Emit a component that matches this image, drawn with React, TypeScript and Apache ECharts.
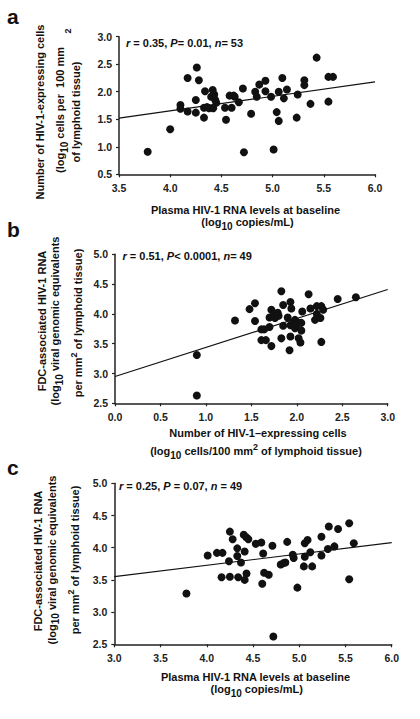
import React, { useEffect, useRef } from "react";
import * as echarts from "echarts";

const FONT = "'Liberation Sans', Arial, Helvetica, sans-serif";

// ---------- Panel a: plasma RNA vs HIV-1-expressing cells ----------
const aPlasma = [3.78, 4.0, 4.1, 4.1, 4.17, 4.17, 4.26, 4.28, 4.25, 4.25, 4.34, 4.33, 4.33, 4.415, 4.4, 4.44, 4.38, 4.42, 4.535, 4.545, 4.58, 4.63, 4.6, 4.67, 4.71, 4.72, 4.79, 4.83, 4.845, 4.87, 4.93, 4.93, 4.985, 5.01, 5.04, 5.06, 5.06, 5.095, 5.11, 5.14, 5.235, 5.245, 5.31, 5.31, 5.37, 5.43, 5.545, 5.59, 5.545, 4.43, 4.36, 4.45, 4.62];
const aCells = [0.91, 1.32, 1.76, 1.69, 2.25, 1.64, 2.44, 2.21, 1.85, 1.62, 2.01, 1.71, 1.53, 2.03, 1.91, 1.85, 1.7, 1.7, 1.71, 1.49, 1.93, 1.91, 1.71, 1.81, 2.06, 0.9, 1.6, 2.0, 1.91, 2.13, 2.2, 2.01, 1.91, 0.95, 1.63, 1.47, 2.0, 2.25, 1.88, 2.04, 1.53, 1.95, 2.21, 2.12, 1.78, 2.62, 2.27, 2.27, 1.82, 1.95, 1.72, 1.8, 1.93];
const aFitX = [3.5, 6.0];
const aFitY = [1.52, 2.18];

// ---------- Panel b: cells vs FDC-associated RNA ----------
const bCells = [0.9, 0.9, 1.32, 1.48, 1.54, 1.54, 1.61, 1.61, 1.66, 1.64, 1.7, 1.72, 1.72, 1.7, 1.76, 1.79, 1.83, 1.83, 1.85, 1.85, 1.9, 1.92, 1.93, 1.94, 1.93, 1.93, 1.98, 1.99, 2.02, 2.02, 2.04, 2.05, 2.05, 2.06, 2.13, 2.15, 2.2, 2.22, 2.26, 2.27, 2.27, 2.29, 2.45, 2.65, 1.8, 1.75, 1.95, 2.22, 1.98];
const bFdc = [3.31, 2.63, 3.89, 4.08, 4.18, 3.88, 3.74, 3.56, 3.56, 3.74, 3.78, 3.46, 4.07, 3.94, 3.93, 4.02, 3.59, 4.38, 4.15, 3.8, 3.94, 3.39, 4.2, 4.09, 3.81, 3.62, 3.9, 3.8, 3.85, 3.59, 3.52, 3.72, 3.85, 4.04, 4.33, 4.09, 3.9, 4.13, 3.93, 3.53, 4.13, 4.07, 4.25, 4.28, 3.97, 4.0, 3.83, 4.0, 3.76];
const bFitX = [0, 3.0];
const bFitY = [2.95, 4.41];

// ---------- Panel c: plasma RNA vs FDC-associated RNA ----------
const cPlasma = [3.78, 4.01, 4.11, 4.17, 4.16, 4.25, 4.28, 4.24, 4.25, 4.33, 4.33, 4.37, 4.34, 4.4, 4.43, 4.45, 4.41, 4.43, 4.41, 4.53, 4.59, 4.61, 4.62, 4.67, 4.6, 4.71, 4.72, 4.8, 4.85, 4.87, 4.93, 4.94, 4.98, 5.05, 5.06, 5.09, 5.06, 5.12, 5.14, 5.24, 5.24, 5.32, 5.31, 5.38, 5.42, 5.54, 5.54, 5.59, 4.83];
const cFdc = [3.29, 3.88, 3.92, 3.92, 3.54, 4.25, 4.13, 3.79, 3.55, 3.99, 3.87, 3.77, 3.54, 4.2, 4.16, 4.13, 3.94, 3.6, 3.5, 4.06, 4.08, 3.91, 3.61, 3.58, 3.44, 4.03, 2.62, 3.74, 3.77, 4.09, 3.89, 3.84, 3.38, 3.71, 4.07, 4.12, 3.86, 3.93, 3.71, 4.17, 3.88, 4.33, 3.98, 4.02, 4.29, 4.38, 3.51, 4.07, 3.76];
const cFitX = [3.0, 6.0];
const cFitY = [3.55, 4.08];

// axis ranges [xmin, xmax, ymin, ymax]
const aRange = [3.5, 6.0, 0.5, 3.0];
const bRange = [0.0, 3.0, 2.5, 5.0];
const cRange = [3.0, 6.0, 2.5, 5.0];

const stats = [
  "{i|r}{n| = 0.35, }{i|P}{n|= 0.01, }{i|n}{n|= 53}",
  "{i|r}{n| = 0.51, }{i|P}{n|< 0.0001, }{i|n}{n|= 49}",
  "{i|r}{n| = 0.25, }{i|P}{n| = 0.07, }{i|n}{n| = 49}",
];

const f = (size: number, italic = false) => ({
  fontFamily: FONT,
  fontWeight: "bold",
  fontSize: size,
  fontStyle: italic ? "italic" : "normal",
});

const richStyles = {
  n: { ...f(11), lineHeight: 12 },
  i: { ...f(11, true), lineHeight: 12 },
  sub: { ...f(10), lineHeight: 4, padding: [8, 0, 0, 0] },
  sup: { ...f(9), lineHeight: 4, padding: [0, 0, 8, 0] },
};

const zip = (xs: number[], ys: number[]) => xs.map((x, i) => [x, ys[i]]);

function txt(x: number, y: number, text: string, opts: any = {}) {
  return {
    type: "text",
    x,
    y,
    rotation: opts.rotate ? Math.PI / 2 : 0,
    silent: true,
    style: {
      text,
      fill: "#111",
      ...f(opts.size || 11),
      align: opts.align || "center",
      verticalAlign: opts.va || "middle",
      rich: richStyles,
    },
  };
}

export default function App() {
  const ref = useRef<HTMLDivElement>(null);

  useEffect(() => {
    if (!ref.current) return;
    const chart = echarts.init(ref.current, undefined, { renderer: "svg" });

    const grids = [
      { left: 119, top: 36.7, width: 256, height: 137.6 },
      { left: 115, top: 254.3, width: 272.7, height: 149 },
      { left: 114.3, top: 483.3, width: 277.4, height: 161 },
    ];
    const ranges = [aRange, bRange, cRange];

    const axisBase = (min: number, max: number, gi: number, isX: boolean) => ({
      type: "value",
      gridIndex: gi,
      min,
      max,
      interval: 0.5,
      axisLine: { show: true, onZero: false, lineStyle: { color: "#222", width: 1.5 } },
      axisTick: { show: true, length: 3, lineStyle: { color: "#222", width: 1.2 } },
      splitLine: { show: false },
      axisLabel: {
        color: "#222",
        fontFamily: FONT,
        fontWeight: "bold",
        fontSize: 10.5,
        margin: isX ? 8 : 7,
        showMinLabel: true,
        showMaxLabel: true,
        formatter: (v: number) => v.toFixed(1),
      },
    });

    const scatterData = [zip(aPlasma, aCells), zip(bCells, bFdc), zip(cPlasma, cFdc)];
    const fitData = [zip(aFitX, aFitY), zip(bFitX, bFitY), zip(cFitX, cFitY)];

    const series: any[] = [];
    for (let g = 0; g < 3; g++) {
      series.push({
        type: "line",
        xAxisIndex: g,
        yAxisIndex: g,
        data: fitData[g],
        showSymbol: false,
        symbol: "none",
        lineStyle: { color: "#111", width: 1.2 },
        z: 2,
      });
      series.push({
        type: "scatter",
        xAxisIndex: g,
        yAxisIndex: g,
        data: scatterData[g],
        symbol: "circle",
        symbolSize: 8,
        itemStyle: { color: "#111", opacity: 1 },
        z: 3,
      });
    }

    const graphic: any[] = [
      // panel letters
      txt(7, 27, "a", { size: 21, align: "left", va: "bottom" }),
      txt(7, 239.5, "b", { size: 21, align: "left", va: "bottom" }),
      txt(7, 478, "c", { size: 21, align: "left", va: "bottom" }),
      // stats
      txt(126, 43, stats[0], { align: "left" }),
      txt(122.5, 255.7, stats[1], { align: "left" }),
      txt(119, 485.7, stats[2], { align: "left" }),
      // panel a titles
      txt(39.5, 112, "{n|Number of HIV-1-expressing cells}", { rotate: true }),
      txt(60, 110, "{n|(log}{sub|10}{n| cells per  100 mm}", { rotate: true }),
      txt(71.5, 31, "{sup|2}", { rotate: true }),
      txt(75.5, 112, "{n|of lymphoid tissue)}", { rotate: true }),
      txt(245.5, 209.5, "{n|Plasma HIV-1 RNA levels at baseline}"),
      txt(247.5, 222, "{n|(log}{sub|10}{n| copies/mL)}"),
      // panel b titles
      txt(41.7, 321, "{n|FDC-associated HIV-1 RNA}", { rotate: true }),
      txt(55, 321, "{n|(log}{sub|10}{n| viral genomic equivalents}", { rotate: true }),
      txt(78.3, 323, "{n|per mm}{sup|2}{n| of lymphoid tissue)}", { rotate: true }),
      txt(258, 433.3, "{n|Number of HIV-1\u2013expressing cells}"),
      txt(256, 451, "{n|(log}{sub|10}{n| cells/100 mm}{sup|2}{n| of lymphoid tissue)}"),
      // panel c titles
      txt(37.7, 561, "{n|FDC-associated HIV-1 RNA}", { rotate: true }),
      txt(51.7, 560, "{n|(log}{sub|10}{n| viral genomic equivalents}", { rotate: true }),
      txt(75, 560, "{n|per mm}{sup|2}{n| of lymphoid tissue)}", { rotate: true }),
      txt(255.5, 677, "{n|Plasma HIV-1 RNA levels at baseline}"),
      txt(256.7, 689, "{n|(log}{sub|10}{n| copies/mL)}"),
    ];

    chart.setOption({
      animation: false,
      backgroundColor: "#fff",
      grid: grids,
      xAxis: ranges.map((r, i) => axisBase(r[0], r[1], i, true)),
      yAxis: ranges.map((r, i) => axisBase(r[2], r[3], i, false)),
      series,
      graphic,
    });

    return () => chart.dispose();
  }, []);

  return (
    <div
      ref={ref}
      style={{ position: "absolute", left: 0, top: 0, width: 420, height: 719, background: "#fff" }}
    />
  );
}
